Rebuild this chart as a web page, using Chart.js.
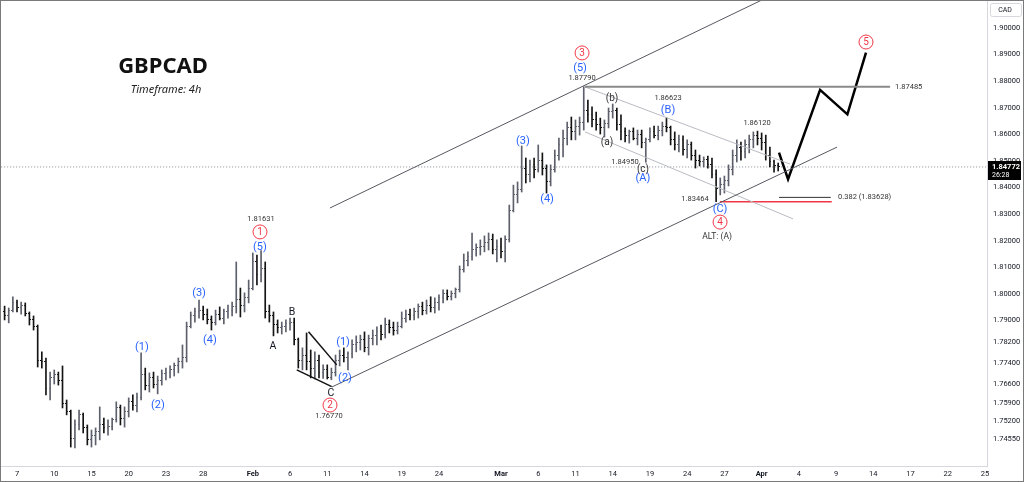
<!DOCTYPE html>
<html lang="en">
<head>
<meta charset="UTF-8">
<title>GBPCAD - Timeframe 4h</title>
<script src="https://cdn.jsdelivr.net/npm/chart.js"></script>
<style>
  html, body { margin: 0; padding: 0; background: #fff; }
  .wrap { position: relative; width: 1024px; height: 482px; }
  .frame { position: absolute; left: 0; top: 0; right: 0; bottom: 0; border: 1px solid #7a7a7a; box-sizing: border-box; pointer-events: none; }
</style>
</head>
<body>
<div class="wrap">
  <canvas id="chart" width="1024" height="482"></canvas>
  <div class="frame"></div>
</div>
<script>
// time axis: trading days counted from Tue 7 Jan
const dayTicks = [0, 3, 6, 9, 12, 15, 19, 22, 25, 28, 31, 34, 39, 42, 45, 48, 51, 54, 57, 60, 63, 66, 69, 72, 75, 78];
const dayLabels = ['7', '10', '15', '20', '23', '28', 'Feb', '6', '11', '14', '19', '24', 'Mar', '6', '11', '14', '19', '24', '27', 'Apr', '4', '9', '14', '17', '22', '25'];
const priceTicks = [1.90, 1.89, 1.88, 1.87, 1.86, 1.85, 1.84, 1.83, 1.82, 1.81, 1.80, 1.79, 1.782, 1.774, 1.766, 1.759, 1.752, 1.7455];

// price bars [open, high, low, close], 3 per trading day starting day -1
const firstDay = -1;
const barsPerDay = 3;
const bars = [
  [1.7932,1.7954,1.7902,1.7917],[1.7917,1.7947,1.7891,1.7939],[1.7939,1.7989,1.7932,1.7966],
  [1.7966,1.7977,1.7932,1.7947],[1.7947,1.7969,1.7924,1.7958],[1.7958,1.7966,1.7917,1.7928],
  [1.7928,1.7932,1.7883,1.7902],[1.7902,1.7917,1.7864,1.7879],[1.7879,1.7883,1.7725,1.7751],
  [1.7751,1.7782,1.7721,1.7744],[1.7744,1.7759,1.7620,1.7646],[1.7646,1.7706,1.7601,1.7684],
  [1.7684,1.7714,1.7661,1.7695],[1.7695,1.7706,1.7657,1.7676],[1.7676,1.7729,1.7571,1.7586],
  [1.7586,1.7601,1.7545,1.7556],[1.7556,1.7563,1.7424,1.7458],[1.7458,1.7526,1.7421,1.7507],
  [1.7507,1.7563,1.7488,1.7545],[1.7545,1.7552,1.7477,1.7496],[1.7496,1.7507,1.7432,1.7451],
  [1.7451,1.7488,1.7424,1.7469],[1.7469,1.7496,1.7432,1.7481],[1.7481,1.7575,1.7451,1.7507],
  [1.7507,1.7533,1.7477,1.7496],[1.7496,1.7526,1.7469,1.7503],[1.7503,1.7533,1.7488,1.7526],
  [1.7526,1.7594,1.7518,1.7571],[1.7571,1.7582,1.7507,1.7533],[1.7533,1.7575,1.7499,1.7556],
  [1.7556,1.7609,1.7537,1.7594],[1.7594,1.7620,1.7563,1.7582],[1.7582,1.7627,1.7556,1.7609],
  [1.7609,1.7778,1.7601,1.7695],[1.7695,1.7721,1.7639,1.7657],[1.7657,1.7703,1.7631,1.7684],
  [1.7684,1.7706,1.7646,1.7661],[1.7661,1.7691,1.7624,1.7676],[1.7676,1.7714,1.7657,1.7699],
  [1.7699,1.7721,1.7676,1.7706],[1.7706,1.7729,1.7684,1.7714],[1.7714,1.7740,1.7691,1.7729],
  [1.7729,1.7759,1.7703,1.7744],[1.7744,1.7808,1.7721,1.7759],[1.7759,1.7894,1.7744,1.7879],
  [1.7879,1.7932,1.7872,1.7917],[1.7917,1.7947,1.7894,1.7932],[1.7932,1.7977,1.7909,1.7939],
  [1.7939,1.7954,1.7902,1.7921],[1.7921,1.7943,1.7887,1.7902],[1.7902,1.7917,1.7864,1.7894],
  [1.7894,1.7939,1.7883,1.7924],[1.7924,1.7951,1.7902,1.7909],[1.7909,1.7943,1.7887,1.7932],
  [1.7932,1.7958,1.7909,1.7939],[1.7939,1.7969,1.7917,1.7954],[1.7954,1.8120,1.7928,1.7977],
  [1.7977,1.8022,1.7913,1.7958],[1.7958,1.8004,1.7932,1.7985],[1.7985,1.8052,1.7966,1.8022],
  [1.8022,1.8154,1.8015,1.8120],[1.8120,1.8146,1.8034,1.8071],[1.8071,1.81631,1.8045,1.8097],
  [1.8097,1.8120,1.7909,1.7932],[1.7932,1.7958,1.7894,1.7917],[1.7917,1.7932,1.7842,1.7883],
  [1.7883,1.7902,1.7853,1.7872],[1.7872,1.7894,1.7849,1.7879],[1.7879,1.7902,1.7857,1.7887],
  [1.7887,1.7909,1.7864,1.7894],[1.7894,1.7909,1.7808,1.7827],[1.7827,1.7834,1.7721,1.7751],
  [1.7751,1.7797,1.7714,1.7770],[1.7770,1.7853,1.7714,1.7744],[1.7744,1.7789,1.7684,1.7721],
  [1.7721,1.7782,1.7680,1.7751],[1.7751,1.7770,1.7684,1.7706],[1.7706,1.7733,1.7682,1.7714],
  [1.7714,1.7733,1.7680,1.7684],[1.7684,1.7721,1.7677,1.7706],[1.7706,1.7770,1.7691,1.7751],
  [1.7751,1.7789,1.7729,1.7770],[1.7770,1.7797,1.7744,1.7759],[1.7759,1.7782,1.7714,1.7774],
  [1.7774,1.7827,1.7759,1.7808],[1.7808,1.7842,1.7782,1.7819],[1.7819,1.7845,1.7789,1.7827],
  [1.7827,1.7857,1.7782,1.7797],[1.7797,1.7845,1.7770,1.7834],[1.7834,1.7864,1.7808,1.7842],
  [1.7842,1.7876,1.7808,1.7857],[1.7857,1.7883,1.7827,1.7849],[1.7849,1.7909,1.7834,1.7883],
  [1.7883,1.7902,1.7853,1.7872],[1.7872,1.7894,1.7845,1.7864],[1.7864,1.7894,1.7849,1.7879],
  [1.7879,1.7932,1.7872,1.7909],[1.7909,1.7939,1.7894,1.7924],[1.7924,1.7943,1.7902,1.7917],
  [1.7917,1.7947,1.7902,1.7932],[1.7932,1.7962,1.7909,1.7954],[1.7954,1.7969,1.7921,1.7939],
  [1.7939,1.7977,1.7924,1.7958],[1.7958,1.7989,1.7932,1.7947],[1.7947,1.7985,1.7928,1.7969],
  [1.7969,1.7996,1.7939,1.7985],[1.7985,1.8015,1.7966,1.8000],[1.8000,1.8015,1.7977,1.7992],
  [1.7992,1.8011,1.7977,1.8000],[1.8000,1.8022,1.7985,1.8015],[1.8015,1.8105,1.8007,1.8090],
  [1.8090,1.8150,1.8082,1.8127],[1.8127,1.8158,1.8105,1.8142],[1.8142,1.8229,1.8127,1.8165],
  [1.8165,1.8188,1.8142,1.8173],[1.8173,1.8203,1.8146,1.8180],[1.8180,1.8218,1.8158,1.8195],
  [1.8195,1.8229,1.8165,1.8203],[1.8203,1.8225,1.8150,1.8165],[1.8165,1.8203,1.8120,1.8180],
  [1.8180,1.8210,1.8135,1.8158],[1.8158,1.8218,1.8120,1.8203],[1.8203,1.8334,1.8195,1.8315],
  [1.8315,1.8409,1.8308,1.8372],[1.8372,1.8421,1.8342,1.8391],[1.8391,1.8556,1.8383,1.8473],
  [1.8473,1.8511,1.8417,1.8447],[1.8447,1.8503,1.8421,1.8485],[1.8485,1.8511,1.8436,1.8466],
  [1.8466,1.8560,1.8458,1.8503],[1.8503,1.8530,1.8447,1.8473],[1.8473,1.8485,1.8379,1.8421],
  [1.8421,1.8485,1.8406,1.8466],[1.8466,1.8541,1.8458,1.8522],[1.8522,1.8586,1.8503,1.8560],
  [1.8560,1.8616,1.8515,1.8586],[1.8586,1.8646,1.8560,1.8624],[1.8624,1.8665,1.8579,1.8609],
  [1.8609,1.8654,1.8579,1.8631],[1.8631,1.8665,1.8597,1.8646],[1.8646,1.87790,1.8616,1.8691],
  [1.8691,1.8729,1.8646,1.8673],[1.8673,1.8703,1.8628,1.8654],[1.8654,1.8684,1.8616,1.8635],
  [1.8635,1.8661,1.8601,1.8624],[1.8624,1.8654,1.8590,1.8639],[1.8639,1.8699,1.8624,1.8684],
  [1.8684,1.8714,1.8661,1.8691],[1.8691,1.8699,1.8616,1.8635],[1.8635,1.8673,1.8579,1.8609],
  [1.8609,1.8624,1.8571,1.8594],[1.8594,1.8616,1.8567,1.8609],[1.8609,1.8624,1.8579,1.8586],
  [1.8586,1.8616,1.8560,1.8601],[1.8601,1.8616,1.8549,1.8571],[1.8571,1.8586,1.84950,1.8579],
  [1.8579,1.8624,1.8571,1.8609],[1.8609,1.8631,1.8586,1.8597],[1.8597,1.8631,1.8579,1.8616],
  [1.8616,1.8646,1.8594,1.8631],[1.8631,1.86623,1.8609,1.8624],[1.8624,1.8631,1.8560,1.8579],
  [1.8579,1.8609,1.8541,1.8560],[1.8560,1.8597,1.8534,1.8579],[1.8579,1.8594,1.8522,1.8541],
  [1.8541,1.8579,1.8511,1.8560],[1.8560,1.8571,1.8503,1.8522],[1.8522,1.8541,1.8473,1.8503],
  [1.8503,1.8522,1.8481,1.8496],[1.8496,1.8515,1.8477,1.8507],[1.8507,1.8518,1.8473,1.8488],
  [1.8488,1.8511,1.8436,1.8447],[1.8447,1.8466,1.83464,1.8398],[1.8398,1.8436,1.8372,1.8413],
  [1.8413,1.8443,1.8379,1.8428],[1.8428,1.8485,1.8406,1.8466],[1.8466,1.8541,1.8447,1.8522],
  [1.8522,1.8579,1.8496,1.8549],[1.8549,1.8571,1.8503,1.8534],[1.8534,1.8579,1.8511,1.8560],
  [1.8560,1.8597,1.8530,1.8579],[1.8579,1.8609,1.8549,1.8594],[1.8594,1.86120,1.8560,1.8586],
  [1.8586,1.8605,1.8541,1.8571],[1.8571,1.8597,1.8503,1.8522],[1.8522,1.8552,1.8477,1.8496],
  [1.8496,1.8503,1.8458,1.8481],[1.8481,1.8492,1.8462,1.84772]
];
const lastPrice = 1.84772;

// drawings, [day, price]
const upperChannel = [[25.22, 1.8323], [63.09, 1.9174]];
const lowerChannel = [[25.38, 1.7650], [66.08, 1.8552]];
const peakLevel = [[45.77, 1.8779], [70.35, 1.8779]];
const corrUpper = [[45.77, 1.8778], [62.29, 1.8488]];
const corrLower = [[45.77, 1.8609], [62.53, 1.8282]];
const wave4Level = [[56.65, 1.83464], [65.65, 1.83464]];
const fibLevel = [[61.40, 1.83628], [65.57, 1.83628]];
const projection = [[61.40, 1.8531], [62.13, 1.8431], [64.71, 1.8767], [66.91, 1.8675], [68.41, 1.8907]];
const triTop = [[23.49, 1.7858], [25.76, 1.7733]];
const triBottom = [[22.54, 1.7714], [25.36, 1.7651]];

// wave labels [text, day, price]
const circleLabels = [['1', 19.58, 1.8233], ['2', 25.22, 1.7582], ['3', 45.53, 1.8906], ['4', 56.65, 1.8270], ['5', 68.41, 1.8947]];
const blueLabels = [
  ['(1)', 10.07, 1.7800], ['(2)', 11.36, 1.7582], ['(3)', 14.67, 1.8003], ['(4)', 15.55, 1.7827], ['(5)', 19.58, 1.8176],
  ['(1)', 26.27, 1.7819], ['(2)', 26.43, 1.7684], ['(3)', 40.77, 1.8575], ['(4)', 42.71, 1.8357], ['(5)', 45.37, 1.8849],
  ['(A)', 50.44, 1.8436], ['(B)', 52.46, 1.8691], ['(C)', 56.65, 1.8319]
];
const letterLabels = [['A', 20.63, 1.7804], ['B', 22.16, 1.7932], ['C', 25.30, 1.7627]];
const smallLetters = [['(a)', 47.54, 1.8571], ['(b)', 47.95, 1.8733], ['(c)', 50.44, 1.8466]];
const priceNotes = [
  ['1.81631', 19.66, 1.8282], ['1.76770', 25.14, 1.7541], ['1.87790', 45.53, 1.8812], ['1.86623', 52.46, 1.8737],
  ['1.84950', 48.99, 1.8496], ['1.86120', 59.63, 1.8643], ['1.83464', 54.63, 1.8357]
];
const sideNotes = [['1.87485', 70.75, 1.8778], ['0.382 (1.83628)', 66.16, 1.8363]];
const altNote = ['ALT: (A)', 56.41, 1.8214];

const upColor = '#5d606b';
const downColor = '#141414';
const blue = '#2962ff';
const red = '#f23645';
const font = 'Roboto';

const xOf = i => firstDay + i / barsPerDay;
const isUp = b => b[3] >= b[0];

function tickImage(color, left) {
  const c = document.createElement('canvas');
  c.width = 3;
  c.height = 1;
  const g = c.getContext('2d');
  g.fillStyle = color;
  g.fillRect(left ? 0 : 2, 0, 1, 1);
  return c;
}
const openUp = tickImage(upColor, true), openDown = tickImage(downColor, true);
const closeUp = tickImage(upColor, false), closeDown = tickImage(downColor, false);

function lineSet(pts, color, width, dash, order) {
  return {
    type: 'line',
    data: pts.map(p => ({ x: p[0], y: p[1] })),
    borderColor: color,
    borderWidth: width,
    borderDash: dash || [],
    pointRadius: 0,
    fill: false,
    tension: 0,
    order: order || 1
  };
}

const annotate = {
  id: 'annotate',
  afterDatasetsDraw(chart) {
    const { ctx, scales: { x, y } } = chart;
    ctx.save();
    ctx.textAlign = 'center';
    ctx.textBaseline = 'middle';

    circleLabels.forEach(([t, d, p]) => {
      const px = x.getPixelForValue(d), py = y.getPixelForValue(p);
      ctx.beginPath();
      ctx.arc(px, py, 7, 0, Math.PI * 2);
      ctx.fillStyle = '#fff';
      ctx.fill();
      ctx.strokeStyle = red;
      ctx.lineWidth = 1;
      ctx.stroke();
      ctx.fillStyle = red;
      ctx.font = '10px ' + font;
      ctx.fillText(t, px, py + 0.5);
    });

    ctx.fillStyle = blue;
    ctx.font = '11px ' + font;
    blueLabels.forEach(([t, d, p]) => ctx.fillText(t, x.getPixelForValue(d), y.getPixelForValue(p)));

    ctx.fillStyle = '#131722';
    ctx.font = '10.5px ' + font;
    letterLabels.forEach(([t, d, p]) => ctx.fillText(t, x.getPixelForValue(d), y.getPixelForValue(p)));

    ctx.fillStyle = '#333';
    ctx.font = '10px ' + font;
    smallLetters.forEach(([t, d, p]) => ctx.fillText(t, x.getPixelForValue(d), y.getPixelForValue(p)));

    ctx.font = '8.5px ' + font;
    ctx.fillText(altNote[0], x.getPixelForValue(altNote[1]), y.getPixelForValue(altNote[2]));

    ctx.font = '7.5px ' + font;
    priceNotes.forEach(([t, d, p]) => ctx.fillText(t, x.getPixelForValue(d), y.getPixelForValue(p)));
    ctx.textAlign = 'left';
    sideNotes.forEach(([t, d, p]) => ctx.fillText(t, x.getPixelForValue(d), y.getPixelForValue(p)));

    // title block
    ctx.textAlign = 'center';
    ctx.fillStyle = '#111';
    ctx.font = 'bold 22px "Noto Sans"';
    ctx.fillText('GBPCAD', 163, 67);
    ctx.font = 'italic 11px "Noto Sans"';
    ctx.fillStyle = '#222';
    ctx.fillText('Timeframe: 4h', 166, 90);
    ctx.restore();
  },
  afterDraw(chart) {
    const { ctx, scales: { y } } = chart;
    const py = y.getPixelForValue(lastPrice);
    ctx.save();
    ctx.fillStyle = '#000';
    ctx.fillRect(988, Math.round(py) - 6, 33, 19);
    ctx.fillStyle = '#fff';
    ctx.textAlign = 'left';
    ctx.textBaseline = 'middle';
    ctx.font = 'bold 7.5px ' + font;
    ctx.fillText(lastPrice.toFixed(5), 992, py);
    ctx.font = '7px ' + font;
    ctx.fillText('26:28', 992, py + 8);

    ctx.fillStyle = '#fff';
    ctx.strokeStyle = '#d6d8de';
    ctx.lineWidth = 1;
    ctx.beginPath();
    ctx.roundRect(990.5, 3.5, 31, 13, 2);
    ctx.fill();
    ctx.stroke();
    ctx.fillStyle = '#131722';
    ctx.textAlign = 'center';
    ctx.font = '7px ' + font;
    ctx.fillText('CAD', 1005, 10);
    ctx.restore();
  }
};

new Chart(document.getElementById('chart'), {
  type: 'bar',
  data: {
    datasets: [
      lineSet([[-2, lastPrice], [79, lastPrice]], '#8a8d96', 1, [1, 2], 5),
      {
        type: 'bar',
        data: bars.map((b, i) => ({ x: xOf(i), y: [b[2], b[1]] })),
        backgroundColor: bars.map(b => isUp(b) ? upColor : downColor),
        barThickness: 1,
        grouped: false,
        order: 4
      },
      {
        type: 'scatter',
        data: bars.map((b, i) => ({ x: xOf(i), y: b[0] })),
        pointStyle: bars.map(b => isUp(b) ? openUp : openDown),
        pointRadius: 1,
        order: 3
      },
      {
        type: 'scatter',
        data: bars.map((b, i) => ({ x: xOf(i), y: b[3] })),
        pointStyle: bars.map(b => isUp(b) ? closeUp : closeDown),
        pointRadius: 1,
        order: 3
      },
      lineSet(upperChannel, '#55585f', 1),
      lineSet(lowerChannel, '#55585f', 1),
      lineSet(peakLevel, '#8a8a8a', 2),
      lineSet(corrUpper, '#b8bbc2', 1),
      lineSet(corrLower, '#b8bbc2', 1),
      lineSet(wave4Level, red, 1.5),
      lineSet(fibLevel, '#333', 1),
      lineSet(projection, '#000', 2.5),
      lineSet(triTop, '#111', 1.5),
      lineSet(triBottom, '#111', 1.5)
    ]
  },
  options: {
    responsive: false,
    animation: false,
    layout: { padding: 0, autoPadding: false },
    plugins: { legend: { display: false }, tooltip: { enabled: false } },
    scales: {
      x: {
        type: 'linear',
        min: -1.37,
        max: 78.16,
        offset: false,
        grid: { display: false, drawTicks: false },
        border: { display: true, color: '#d6d8de' },
        afterBuildTicks: s => { s.ticks = dayTicks.map(v => ({ value: v })); },
        afterFit: s => { s.height = 16; s.paddingLeft = 0; s.paddingRight = 0; },
        ticks: {
          autoSkip: false,
          maxRotation: 0,
          padding: 4,
          color: '#131722',
          font: c => ({ family: font, size: 7.5, weight: /[A-Za-z]/.test(dayLabels[c.index] || '') ? 'bold' : 'normal' }),
          callback: (v, i) => dayLabels[i]
        }
      },
      y: {
        position: 'right',
        min: 1.73528,
        max: 1.9105,
        grid: { display: false, drawTicks: false },
        border: { display: true, color: '#d6d8de' },
        afterBuildTicks: s => { s.ticks = priceTicks.map(v => ({ value: v })); },
        afterFit: s => { s.width = 37; s.paddingTop = 0; s.paddingBottom = 0; },
        ticks: {
          autoSkip: false,
          padding: 6,
          color: '#131722',
          font: { family: font, size: 7.5 },
          callback: v => Number(v).toFixed(5)
        }
      }
    }
  },
  plugins: [annotate]
});
</script>
</body>
</html>
